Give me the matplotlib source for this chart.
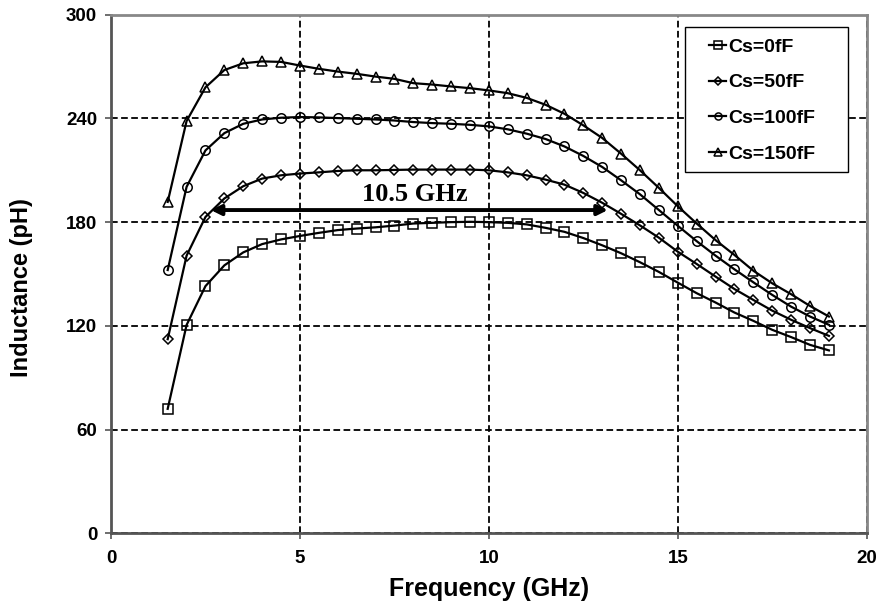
import numpy as np
import matplotlib
matplotlib.use('Agg')
import matplotlib.pyplot as plt
from matplotlib.patches import Rectangle

# Frequency points (GHz)
freq = [1.5, 2.0, 2.5, 3.0, 3.5, 4.0, 4.5, 5.0, 5.5, 6.0, 6.5, 7.0, 7.5, 8.0, 8.5, 9.0,
        9.5, 10.0, 10.5, 11.0, 11.5, 12.0, 12.5, 13.0, 13.5, 14.0, 14.5, 15.0, 15.5,
        16.0, 16.5, 17.0, 17.5, 18.0, 18.5, 19.0]

# Inductance (pH) for each Cs
cs0 = [72, 120.5, 143, 155, 162.5, 167.3, 170, 172, 173.8, 175.4, 176.3, 177, 178, 179.2,
       179.6, 180, 180.2, 180, 179.6, 178.7, 176.7, 174.4, 170.8, 166.6, 162, 156.8, 151.2,
       145, 138.9, 133.5, 127.7, 122.9, 117.7, 113.5, 109, 105.8]
cs50 = [112.3, 160.6, 183, 193.7, 200.8, 205.2, 207.1, 208.1, 208.8, 209.6, 210, 210, 210.2,
        210.4, 210.4, 210.4, 210.4, 210, 208.8, 207.1, 204.6, 201.7, 196.9, 191.2, 184.8,
        178.1, 171, 162.9, 155.8, 148.5, 141.3, 135, 128.8, 123.5, 118.7, 114.2]
cs100 = [152.3, 200.4, 221.5, 231.5, 236.9, 239.4, 240.4, 240.8, 240.6, 240.2, 239.8, 239.4,
         238.8, 237.9, 237.3, 236.9, 236.3, 235.4, 233.7, 231.2, 228.1, 223.8, 218.3, 211.9,
         204.2, 196.1, 187, 177.9, 169, 160.6, 152.7, 145.2, 137.9, 131.1, 125.4, 120.6]
cs150 = [191.7, 238.5, 258, 268, 271.9, 273, 272.7, 270.6, 268.7, 267.1, 265.8, 264.2, 262.9,
         260.4, 259.6, 258.5, 257.5, 256.2, 254.6, 251.9, 247.9, 242.7, 236, 228.7, 219.6,
         210, 199.8, 189.2, 179.2, 169.6, 161, 151.9, 144.6, 138.3, 131.5, 125.4]

labels = ['Cs=0fF', 'Cs=50fF', 'Cs=100fF', 'Cs=150fF']
markers = ['s', 'D', 'o', '^']
msizes = [7, 5, 6.8, 7.5]

# Bandwidth annotation
bw_start, bw_end, bw_level = 2.64, 13.15, 187
bw_text = '10.5 GHz'

fig = plt.figure(figsize=(8.79, 6.08), dpi=100)
ax = fig.add_axes([0.1263, 0.1229, 0.8597, 0.8529])

for y, lab, m, ms in zip([cs0, cs50, cs100, cs150], labels, markers, msizes):
    ax.plot(freq, y, color='black', linewidth=1.6, marker=m, markersize=ms,
            markerfacecolor='none', markeredgecolor='black', markeredgewidth=1.1,
            label=lab)

ax.annotate('', xy=(bw_start, bw_level), xytext=(bw_end, bw_level),
            arrowprops=dict(arrowstyle='<|-|>', color='black', lw=2.8,
                            mutation_scale=15, shrinkA=0, shrinkB=0))
ax.text(8.04, 192.2, bw_text, ha='center', va='baseline',
        fontsize=19, fontweight='bold', family='Liberation Serif')

ax.set_xlim(0, 20)
ax.set_ylim(0, 300)
ax.set_xticks([0, 5, 10, 15, 20])
ax.set_yticks([0, 60, 120, 180, 240, 300])
ax.grid(True, color='black', linestyle=(0, (3.7, 1.9)), linewidth=1.3)
ax.set_axisbelow(True)

for lab in ax.get_xticklabels() + ax.get_yticklabels():
    lab.set_fontweight('bold')
    lab.set_family('Liberation Sans')
ax.tick_params(axis='both', labelsize=13.5, direction='out', length=4, width=1.2,
               color='#555555', pad=6)
ax.tick_params(axis='x', pad=8)

ax.spines['left'].set_color('#555555')
ax.spines['bottom'].set_color('#555555')
ax.spines['top'].set_color('#888888')
ax.spines['right'].set_color('#888888')
for s in ax.spines.values():
    s.set_linewidth(2)

ax.set_xlabel('Frequency (GHz)', fontsize=18, fontweight='bold', family='Liberation Sans',
              labelpad=7)
ax.set_ylabel('Inductance (pH)', fontsize=17, fontweight='bold', family='Liberation Sans')
ax.yaxis.set_label_coords(-0.103, 0.474)

# legend frame drawn separately so that it can be wider than its content
ax.add_patch(Rectangle((0.7592, 0.6973), 0.2161, 0.2784, transform=ax.transAxes,
                       facecolor='white', edgecolor='black', linewidth=1.0, zorder=4))
leg = ax.legend(loc='upper left', bbox_to_anchor=(0.7807, 0.9699), frameon=False,
                prop={'family': 'Liberation Sans', 'weight': 'bold', 'size': 14},
                handlelength=0.9, handletextpad=0.1, labelspacing=0.93,
                borderpad=0.4, borderaxespad=0, markerscale=0.75)
leg.set_zorder(5)

fig.savefig('out.png', dpi=100)
